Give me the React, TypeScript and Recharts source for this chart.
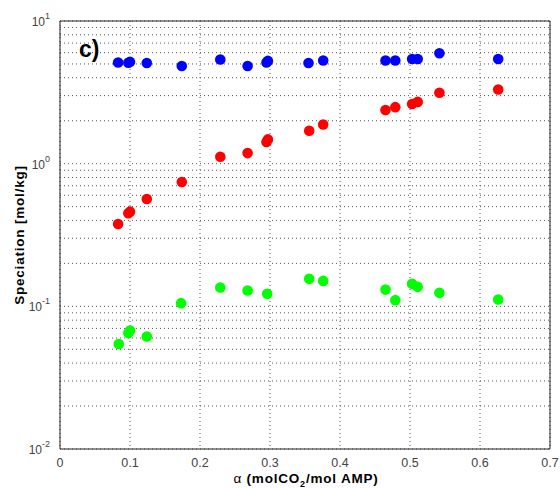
import React from "react";
import {
  ScatterChart,
  Scatter,
  XAxis,
  YAxis,
  CartesianGrid,
  ReferenceArea,
} from "recharts";

// ---- data ----
const blueAlpha = [0.083, 0.0976, 0.1, 0.124, 0.174, 0.229, 0.268, 0.295, 0.297, 0.355, 0.376, 0.465, 0.479, 0.503, 0.511, 0.542, 0.626];
const blueValues = [5.12, 5.1, 5.17, 5.08, 4.84, 5.37, 4.84, 5.12, 5.25, 5.08, 5.28, 5.28, 5.28, 5.42, 5.42, 5.94, 5.42];

const redAlpha = [0.083, 0.0976, 0.1, 0.124, 0.174, 0.229, 0.268, 0.295, 0.297, 0.356, 0.376, 0.465, 0.479, 0.503, 0.511, 0.542, 0.626];
const redValues = [0.378, 0.449, 0.461, 0.565, 0.743, 1.118, 1.186, 1.42, 1.48, 1.7, 1.88, 2.38, 2.49, 2.62, 2.71, 3.14, 3.31];

const greenAlpha = [0.084, 0.0976, 0.1, 0.124, 0.173, 0.229, 0.268, 0.296, 0.356, 0.376, 0.465, 0.479, 0.503, 0.511, 0.542, 0.626];
const greenValues = [0.0544, 0.0649, 0.0677, 0.0615, 0.1053, 0.1354, 0.129, 0.1224, 0.1558, 0.1508, 0.131, 0.1105, 0.1437, 0.1369, 0.1243, 0.1116];

const xTicks = [0, 0.1, 0.2, 0.3, 0.4, 0.5, 0.6, 0.7];
const yDecades = [0.01, 0.1, 1, 10];
const yMinorMultipliers = [1, 2, 3, 4, 5, 6, 7, 8, 9];
const yTicks: number[] = [];
yDecades.slice(0, 3).forEach((d) => yMinorMultipliers.forEach((m) => yTicks.push(+(d * m).toPrecision(3))));
yTicks.push(10);

const toPoints = (xs: number[], ys: number[]) => xs.map((x, i) => ({ x, y: ys[i] }));
const blueData = toPoints(blueAlpha, blueValues);
const redData = toPoints(redAlpha, redValues);
const greenData = toPoints(greenAlpha, greenValues);

const FONT = "'Liberation Sans', Arial, Helvetica, sans-serif";
const TICK_COLOR = "#444";

const YTick = (props: any) => {
  const { x, y, payload } = props;
  const v = payload.value;
  const exp = Math.round(Math.log10(v));
  if (Math.abs(Math.pow(10, exp) - v) > 1e-9 * v) return null;
  return (
    <text x={x - 2} y={y + 5} textAnchor="end" fontFamily={FONT} fontSize={12} fill={TICK_COLOR}>
      <tspan>10</tspan>
      <tspan dy={-7} fontSize={9}>{String(exp)}</tspan>
    </text>
  );
};

const XTick = (props: any) => {
  const { x, y, payload } = props;
  return (
    <text x={x} y={y + 10} textAnchor="middle" fontFamily={FONT} fontSize={12.5} fill={TICK_COLOR}>
      {String(payload.value)}
    </text>
  );
};

const dot = (color: string) => (props: any) =>
  <circle cx={props.cx} cy={props.cy} r={5.3} fill={color} />;

export default function App() {
  return (
    <div style={{ position: "absolute", left: 0, top: 0, width: 560, height: 488, background: "#fff" }}>
      <ScatterChart
        width={560}
        height={488}
        margin={{ top: 21, right: 10, bottom: 0, left: 0 }}
      >
        <CartesianGrid stroke="#555" strokeDasharray="1 3" />
        <XAxis
          type="number"
          dataKey="x"
          domain={[0, 0.7]}
          ticks={xTicks}
          allowDataOverflow
          height={39}
          tick={<XTick />}
          tickLine={false}
          axisLine={false}
        />
        <YAxis
          type="number"
          dataKey="y"
          scale="log"
          domain={[0.01, 10]}
          ticks={yTicks}
          allowDataOverflow
          width={60}
          tick={<YTick />}
          tickLine={false}
          axisLine={false}
          interval={0}
        />
        <ReferenceArea x1={0} x2={0.7} y1={0.01} y2={10} fill="none" stroke="#222" strokeWidth={1} ifOverflow="visible" />
        <Scatter data={blueData} shape={dot("#0000ff")} isAnimationActive={false} />
        <Scatter data={redData} shape={dot("#ff0000")} isAnimationActive={false} />
        <Scatter data={greenData} shape={dot("#00ff00")} isAnimationActive={false} />
      </ScatterChart>
      <svg width={560} height={488} style={{ position: "absolute", left: 0, top: 0, pointerEvents: "none" }}>
        <text x={79} y={57} fontFamily={FONT} fontWeight="bold" fontSize={23} fill="#000">c)</text>
        <text
          transform="translate(24,235) rotate(-90)"
          textAnchor="middle"
          fontFamily={FONT}
          fontWeight="bold"
          fontSize={13.5}
          letterSpacing={0.8}
          fill="#000"
        >
          Speciation [mol/kg]
        </text>
        <text x={306} y={483} textAnchor="middle" fontFamily={FONT} fontWeight="bold" fontSize={13.5} letterSpacing={0.8} fill="#000">
          <tspan fontWeight="normal">α</tspan>
          <tspan> (molCO</tspan>
          <tspan dy={4} fontSize={9}>2</tspan>
          <tspan dy={-4}>/mol AMP)</tspan>
        </text>
      </svg>
    </div>
  );
}
